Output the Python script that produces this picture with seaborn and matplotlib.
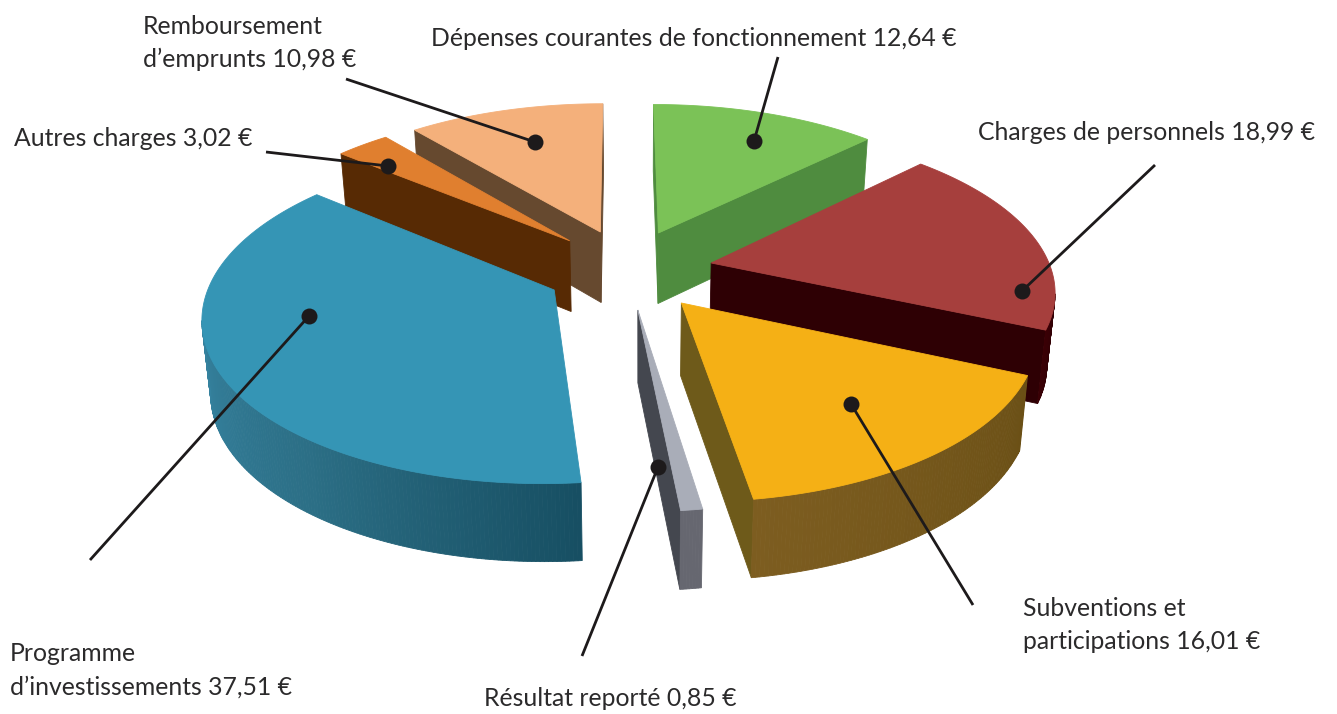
import numpy as np
import matplotlib
matplotlib.use("Agg")
import matplotlib.pyplot as plt
import seaborn as sns

# ---- data -------------------------------------------------------------
categories = ["Dépenses courantes de fonctionnement", "Charges de personnels",
              "Subventions et\nparticipations", "Résultat reporté",
              "Programme\nd’investissements", "Autres charges",
              "Remboursement\nd’emprunts"]
values = [12.64, 18.99, 16.01, 0.85, 37.51, 3.02, 10.98]

# ---- style: per-slice explosion in disc units, colours, label placement --
explode_x = [0.117, 0.27, 0.175, 0.0505, -0.19, -0.152, -0.06]
explode_y = [0.2427, 0.0446, -0.2025, -0.244, -0.124, 0.19, 0.2494]
top_colors = ["#7bc257", "#a63f3d", "#f5b015", "#a9adb8", "#3595b5", "#e07f2f", "#f4b07b"]
cut_colors = ["#4f8c3f", "#2e0004", "#6e5a1a", "#44474f", "#1d5f76", "#572a04", "#66492f"]
rim_colors = [["#4f8c3f", "#4f8c3f"], ["#2e0004", "#3a0005"], ["#6b5016", "#7d5d20"],
              ["#666770", "#666770"], ["#174f63", "#2c6f86", "#35829f"],
              ["#572a04", "#572a04"], ["#66492f", "#66492f"]]
draw_order = [6, 0, 5, 1, 4, 2, 3]
label_xy = [(431, 38), (978, 132), (1023, 625), (484, 699), (10, 670), (14, 139), (143, 43)]
leader_from = [(778, 57), (1155, 165), (973, 605), (582, 656), (90, 560), (266, 152), (346, 79)]
leader_to = [(754, 141), (1022, 291), (851, 404), (658, 467), (309, 316), (388, 166), (535, 142)]

CX, CY, A, B, K = 620, 270, 340, 158, 0.15

sns.set_theme(style="white")
plt.rcParams["font.family"] = ["Lato", "DejaVu Sans"]

fig = plt.figure(figsize=(13.37, 7.14), dpi=100, facecolor="white")
ax = fig.add_axes([0, 0, 1, 1])
ax.set_xlim(0, 1337)
ax.set_ylim(714, 0)
ax.set_axis_off()


def project(X, Y):
    den = 1 + K * Y
    return CX + A * X / den, CY - B * Y / den


def drop(x, y):
    return 640 + (x - 640) * 0.98, y + 71 + 0.03 * (y - 250)


def quad(p, q, color, z):
    bp, bq = drop(*p), drop(*q)
    ax.fill([p[0], q[0], bq[0], bp[0]], [p[1], q[1], bq[1], bp[1]],
            facecolor=color, edgecolor=color, lw=0.6, zorder=z)


edges = np.cumsum([0] + values) / sum(values) * 2 * np.pi
for rank, i in enumerate(draw_order):
    z = 2 + rank * 0.1
    th = np.linspace(edges[i], edges[i + 1], max(8, int(values[i] * 6)))
    rim = [project(explode_x[i] + np.sin(t), explode_y[i] + np.cos(t)) for t in th]
    apex = project(explode_x[i], explode_y[i])

    # cut faces, only the ones turned to the viewer
    if rim[0][0] < apex[0]:
        quad(apex, rim[0], cut_colors[i], z)
    if apex[0] < rim[-1][0]:
        quad(rim[-1], apex, cut_colors[i], z)

    # rim, shaded along its visible part
    front = [k for k in range(len(rim) - 1) if rim[k + 1][0] < rim[k][0]]
    pal = sns.blend_palette(rim_colors[i], max(len(front), 2))
    for n, k in enumerate(front):
        quad(rim[k], rim[k + 1], pal[n], z + 0.01)

    pts = np.array([apex] + rim)
    ax.fill(pts[:, 0], pts[:, 1], facecolor=top_colors[i], edgecolor=top_colors[i],
            lw=0.6, zorder=z + 0.02)

# leaders and labels
for i, cat in enumerate(categories):
    (x0, y0), (x1, y1) = leader_from[i], leader_to[i]
    ax.plot([x0, x1], [y0, y1], color="#1d1a1b", lw=2.0, zorder=5, solid_capstyle="butt")
    ax.plot([x1], [y1], "o", ms=11.5, color="#1d1a1b", mew=0, zorder=6)
    text = f"{cat} " + f"{values[i]:.2f}".replace(".", ",") + " €"
    ax.text(label_xy[i][0], label_xy[i][1], text, fontsize=17.8, color="#2b2a2b",
            ha="left", va="center", linespacing=1.55, zorder=7)

fig.savefig("out.png", dpi=100)
